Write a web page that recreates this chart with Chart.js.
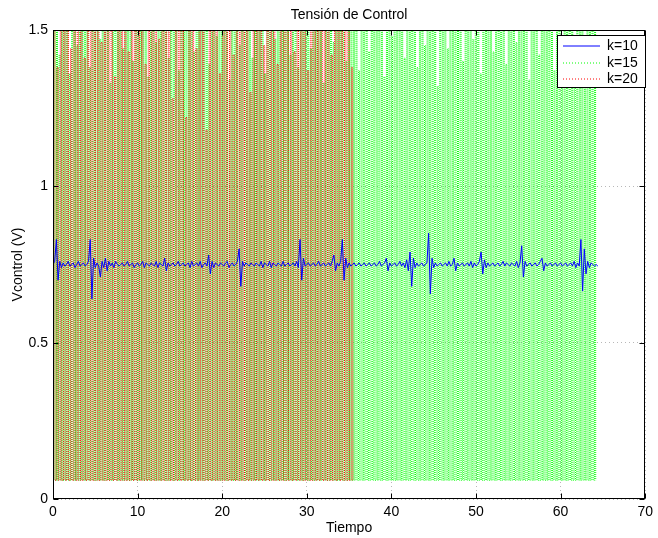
<!DOCTYPE html>
<html>
<head>
<meta charset="utf-8">
<script src="https://cdn.jsdelivr.net/npm/chart.js@4.4.1/dist/chart.umd.min.js"></script>
<style>
  html, body { margin: 0; padding: 0; background: #fff; }
  #lienzo { display: block; }
</style>
</head>
<body>
<canvas id="lienzo" width="658" height="538"></canvas>
<script>
// Etiquetas de la figura
const titulo = 'Tensión de Control';
const tituloX = 'Tiempo';
const tituloY = 'Vcontrol (V)';
const etiquetasSerie = ['k=10', 'k=15', 'k=20'];
const ticksX = [0, 10, 20, 30, 40, 50, 60, 70];
const ticksY = [0, 0.5, 1, 1.5];

// k=10: tensión de control muestreada cada 0.2 s desde t = 0
const pasoK10 = 0.2;
const vK10 = [
  0.75,0.76,0.83,0.70,0.76,0.74,0.755,0.745,0.75,0.76,0.745,0.75,0.755,0.74,0.75,0.76,0.745,0.75,0.755,0.745,
  0.75,0.76,0.83,0.64,0.77,0.74,0.755,0.745,0.71,0.76,0.74,0.77,0.73,0.76,0.745,0.755,0.74,0.76,0.75,0.745,
  0.75,0.755,0.745,0.75,0.76,0.745,0.75,0.755,0.74,0.75,0.755,0.745,0.75,0.76,0.74,0.755,0.75,0.745,0.755,0.75,
  0.745,0.76,0.74,0.755,0.75,0.745,0.77,0.73,0.755,0.745,0.75,0.755,0.745,0.75,0.76,0.745,0.75,0.755,0.745,0.75,
  0.755,0.74,0.76,0.745,0.75,0.755,0.745,0.76,0.74,0.75,0.755,0.745,0.78,0.72,0.76,0.74,0.755,0.75,0.745,0.755,
  0.75,0.745,0.755,0.76,0.74,0.75,0.755,0.745,0.75,0.76,0.80,0.68,0.76,0.745,0.755,0.75,0.745,0.755,0.75,0.745,
  0.755,0.75,0.745,0.76,0.74,0.755,0.75,0.745,0.76,0.74,0.755,0.75,0.745,0.755,0.75,0.745,0.76,0.745,0.75,0.755,
  0.745,0.75,0.755,0.745,0.76,0.74,0.83,0.70,0.77,0.745,0.75,0.755,0.745,0.75,0.755,0.745,0.75,0.76,0.745,0.75,
  0.755,0.745,0.75,0.755,0.745,0.76,0.78,0.73,0.755,0.745,0.76,0.83,0.70,0.77,0.74,0.755,0.745,0.75,0.755,0.745,
  0.75,0.755,0.745,0.75,0.755,0.745,0.75,0.755,0.745,0.75,0.755,0.745,0.75,0.76,0.745,0.75,0.755,0.77,0.73,0.755,
  0.745,0.75,0.755,0.745,0.75,0.76,0.745,0.755,0.74,0.765,0.73,0.79,0.68,0.77,0.74,0.755,0.745,0.75,0.755,0.745,
  0.75,0.755,0.85,0.656,0.77,0.74,0.755,0.745,0.75,0.755,0.745,0.75,0.755,0.745,0.76,0.745,0.75,0.77,0.73,0.755,
  0.745,0.75,0.755,0.745,0.75,0.755,0.745,0.76,0.74,0.755,0.745,0.75,0.76,0.79,0.72,0.765,0.74,0.755,0.745,0.75,
  0.755,0.745,0.75,0.755,0.745,0.75,0.76,0.745,0.755,0.75,0.745,0.755,0.75,0.745,0.76,0.74,0.755,0.81,0.71,0.76,
  0.745,0.75,0.755,0.745,0.75,0.755,0.745,0.75,0.76,0.77,0.73,0.755,0.745,0.75,0.755,0.745,0.75,0.755,0.745,0.75,
  0.755,0.745,0.75,0.755,0.745,0.75,0.755,0.745,0.76,0.74,0.755,0.745,0.83,0.665,0.80,0.72,0.76,0.74,0.755,0.75,
  0.745,0.75,0.745
];

// k=15: pulsos de conmutación (valor de pico de cada pulso)
const inicioK15 = 0.1;
const pasoK15 = 0.3;
const baseK15 = 0.06;
const picosK15 = [
  1.9,1.9,1.42,1.9,1.9,1.9,1.36,1.9,1.9,1.45,1.9,1.9,1.9,1.9,1.38,1.9,1.9,1.9,1.47,1.9,
  1.9,1.9,1.33,1.9,1.9,1.9,1.9,1.44,1.9,1.9,1.9,1.40,1.9,1.9,1.9,1.9,1.9,1.35,1.9,1.9,
  1.46,1.9,1.9,1.9,1.9,1.41,1.9,1.9,1.9,1.37,1.9,1.9,1.9,1.9,1.9,1.43,1.9,1.9,1.9,1.9,
  1.9,1.39,1.9,1.9,1.48,1.9,1.9,1.9,1.9,1.34,1.9,1.9,1.9,1.45,1.9,1.9,1.9,1.9,1.41,1.9,
  1.9,1.9,1.9,1.36,1.9,1.9,1.9,1.47,1.9,1.9,1.9,1.9,1.9,1.42,1.9,1.9,1.38,1.9,1.9,1.9,
  1.9,1.44,1.9,1.9,1.9,1.9,1.33,1.9,1.9,1.9,1.46,1.9,1.9,1.9,1.9,1.40,1.9,1.9,1.9,1.9,
  1.37,1.9,1.9,1.9,1.43,1.9,1.9,1.9,1.9,1.9,1.35,1.9,1.9,1.48,1.9,1.9,1.9,1.9,1.41,1.9,
  1.9,1.9,1.9,1.38,1.9,1.9,1.45,1.9,1.9,1.9,1.9,1.32,1.9,1.9,1.9,1.44,1.9,1.9,1.9,1.9,
  1.9,1.40,1.9,1.9,1.9,1.47,1.9,1.9,1.36,1.9,1.9,1.9,1.9,1.43,1.9,1.9,1.9,1.9,1.39,1.9,
  1.9,1.9,1.46,1.9,1.9,1.9,1.9,1.34,1.9,1.9,1.9,1.42,1.9,1.9,1.9,1.9,1.9,1.37,1.9,1.9,
  1.45,1.9,1.9,1.9,1.9,1.40,1.9,1.9,1.9,1.48,1.9,1.9,1.9,1.9
];

// k=20: pulsos de conmutación (valor de pico de cada pulso)
const inicioK20 = 0.05;
const pasoK20 = 0.4;
const baseK20 = 0.06;
const picosK20 = [
  1.9,1.38,1.9,1.9,1.9,1.44,1.9,1.9,1.9,1.41,1.9,1.9,1.9,1.9,1.46,1.9,1.9,1.9,1.35,1.9,
  1.9,1.9,1.43,1.9,1.9,1.9,1.9,1.39,1.9,1.9,1.9,1.47,1.9,1.9,1.9,1.28,1.9,1.9,1.9,1.22,
  1.9,1.9,1.44,1.9,1.9,1.18,1.9,1.9,1.9,1.36,1.9,1.9,1.9,1.42,1.9,1.9,1.9,1.9,1.30,1.9,
  1.9,1.9,1.45,1.9,1.9,1.9,1.39,1.9,1.9,1.9,1.9,1.43,1.9,1.9,1.9,1.37,1.9,1.9,1.9,1.9,
  1.9,1.9,1.42,1.9,1.9,1.9,1.9,1.9,1.38
];

// Convierte la lista de picos en la forma de onda (subida, tramo alto y bajada)
function formaPulsos(inicio, paso, base, picos, ancho) {
  const pts = [];
  picos.forEach((p, i) => {
    const t = inicio + i * paso;
    pts.push({ x: t, y: base }, { x: t + 0.02, y: p }, { x: t + ancho, y: p }, { x: t + ancho + 0.02, y: base });
  });
  return pts;
}

const datosK10 = vK10.map((v, i) => ({ x: +(i * pasoK10).toFixed(2), y: v }));
const datosK15 = formaPulsos(inicioK15, pasoK15, baseK15, picosK15, 0.13);
const datosK20 = formaPulsos(inicioK20, pasoK20, baseK20, picosK20, 0.17);

const fuente = '"Liberation Sans", Arial, Helvetica, sans-serif';
const colorK10 = '#0000ff';
const colorK15 = '#00ff00';
const colorK20 = '#ff0000';
const punteado = [1, 1];

// Marco de ejes, marcas interiores, título, rótulos y leyenda
const decoracion = {
  id: 'decoracion',
  afterDraw(chart) {
    const { ctx, chartArea: a, scales } = chart;
    const L = Math.round(a.left) + 0.5, R = Math.round(a.right) - 0.5;
    const T = Math.round(a.top) + 0.5, B = Math.round(a.bottom) - 0.5;
    ctx.save();
    ctx.strokeStyle = '#000';
    ctx.lineWidth = 1;
    ctx.setLineDash([]);
    ctx.strokeRect(L, T, R - L, B - T);
    ctx.beginPath();
    ticksX.forEach(v => {
      const x = Math.round(scales.x.getPixelForValue(v)) + 0.5;
      ctx.moveTo(x, B); ctx.lineTo(x, B - 5);
      ctx.moveTo(x, T); ctx.lineTo(x, T + 5);
    });
    ticksY.forEach(v => {
      const y = Math.round(scales.y.getPixelForValue(v)) + 0.5;
      ctx.moveTo(L, y); ctx.lineTo(L + 5, y);
      ctx.moveTo(R, y); ctx.lineTo(R - 5, y);
    });
    ctx.stroke();

    ctx.fillStyle = '#000';
    ctx.font = '14px ' + fuente;
    ctx.textAlign = 'center';
    ctx.textBaseline = 'middle';
    ctx.fillText(titulo, (a.left + a.right) / 2, 15);
    ctx.fillText(tituloX, (a.left + a.right) / 2, 528);
    ctx.save();
    ctx.translate(18, (a.top + a.bottom) / 2);
    ctx.rotate(-Math.PI / 2);
    ctx.fillText(tituloY, 0, 0);
    ctx.restore();

    // Leyenda
    const lx = 557.5, ly = 35.5, lw = 88, lh = 52;
    ctx.fillStyle = '#fff';
    ctx.fillRect(lx, ly, lw, lh);
    ctx.strokeStyle = '#000';
    ctx.strokeRect(lx, ly, lw, lh);
    const muestras = [
      { color: colorK10, dash: [] },
      { color: colorK15, dash: [1, 2] },
      { color: colorK20, dash: [1, 2] }
    ];
    etiquetasSerie.forEach((txt, i) => {
      const y = Math.round(46 + i * 16.5);
      ctx.save();
      ctx.strokeStyle = muestras[i].color;
      ctx.lineWidth = 1;
      ctx.setLineDash(muestras[i].dash);
      ctx.beginPath();
      ctx.moveTo(563, y); ctx.lineTo(600, y);
      ctx.stroke();
      ctx.restore();
      ctx.fillStyle = '#000';
      ctx.textAlign = 'left';
      ctx.fillText(txt, 607, y);
    });
    ctx.restore();
  }
};

Chart.defaults.font.family = fuente;
Chart.defaults.font.size = 14;
Chart.defaults.color = '#000';

new Chart(document.getElementById('lienzo'), {
  type: 'line',
  data: {
    datasets: [
      { label: etiquetasSerie[0], data: datosK10, borderColor: colorK10, borderWidth: 1, order: 0 },
      { label: etiquetasSerie[1], data: datosK15, borderColor: colorK15, borderWidth: 1, borderDash: punteado, order: 2 },
      { label: etiquetasSerie[2], data: datosK20, borderColor: colorK20, borderWidth: 1, borderDash: punteado, order: 1 }
    ]
  },
  options: {
    responsive: false,
    animation: false,
    devicePixelRatio: 1,
    parsing: false,
    normalized: true,
    layout: { padding: { top: 30, right: 12, left: 0, bottom: 0 } },
    elements: { point: { radius: 0 }, line: { tension: 0, fill: false } },
    plugins: { legend: { display: false }, title: { display: false }, tooltip: { enabled: false } },
    scales: {
      x: {
        type: 'linear', min: 0, max: 70,
        afterBuildTicks: s => { s.ticks = ticksX.map(v => ({ value: v })); },
        afterFit: s => { s.height = 39; },
        ticks: { padding: 5, maxRotation: 0, autoSkip: false, callback: v => String(v) },
        grid: { color: 'rgba(0,0,0,0.28)', drawTicks: false, lineWidth: 1 },
        border: { display: false, dash: [1, 3] }
      },
      y: {
        type: 'linear', min: 0, max: 1.5,
        afterBuildTicks: s => { s.ticks = ticksY.map(v => ({ value: v })); },
        afterFit: s => { s.width = 53; },
        ticks: { padding: 5, autoSkip: false, callback: v => String(v) },
        grid: { color: 'rgba(0,0,0,0.28)', drawTicks: false, lineWidth: 1 },
        border: { display: false, dash: [1, 3] }
      }
    }
  },
  plugins: [decoracion]
});
</script>
</body>
</html>
